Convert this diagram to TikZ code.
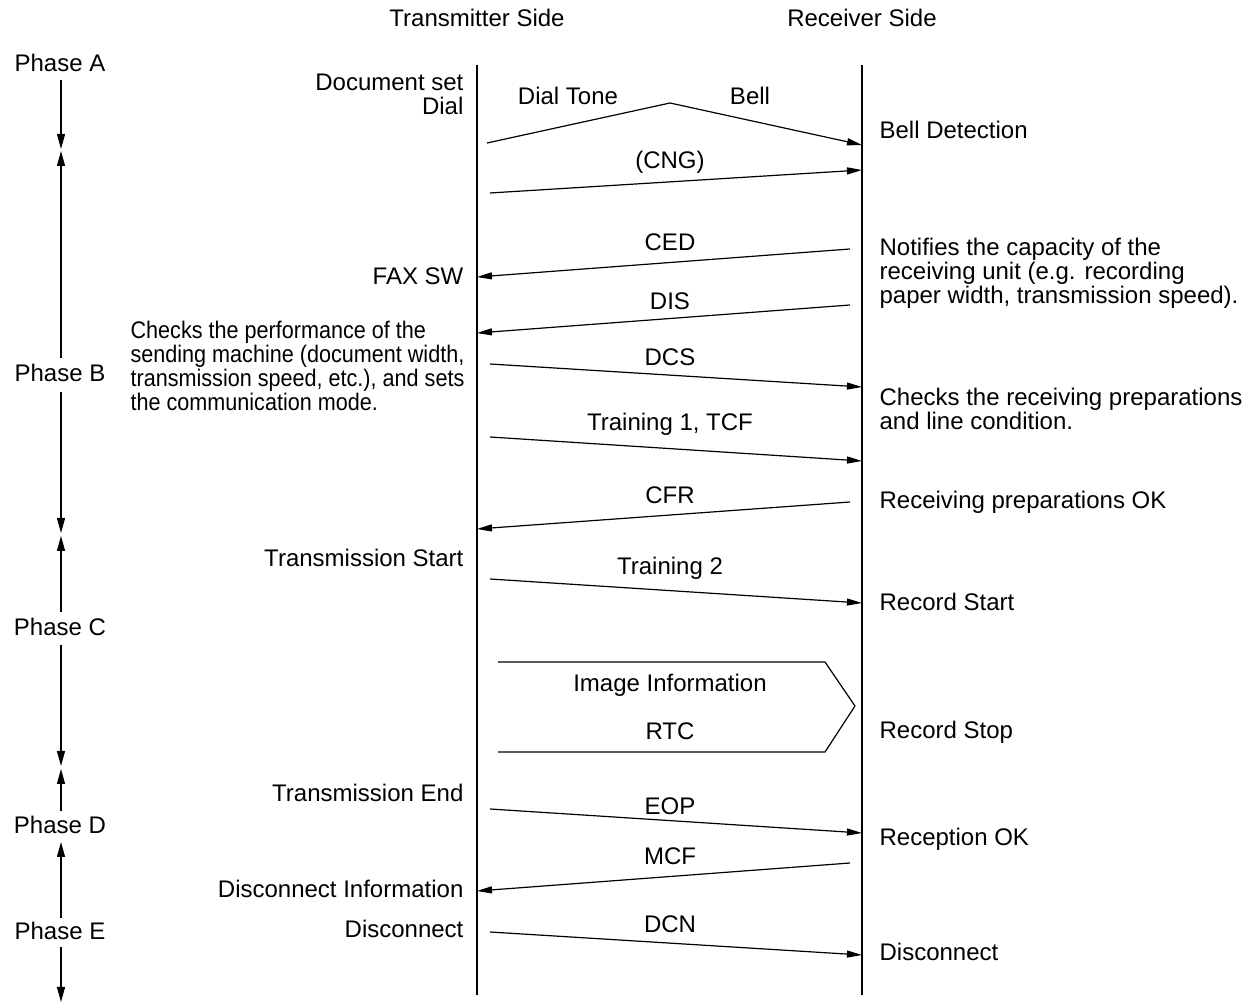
\documentclass[tikz,border=0pt]{standalone}
\usepackage{fontspec}
\setmainfont{Liberation Sans}
\newfontfamily\narrowsans[FakeStretch=0.9]{Liberation Sans}
\usetikzlibrary{arrows.meta}
\begin{document}
\begin{tikzpicture}[x=0.5pt,y=-0.5pt,line width=0.6pt,
  lbl/.style={font=\fontsize{12}{12}\selectfont,inner sep=0pt},
  narrowlbl/.style={font=\narrowsans\fontsize{12}{12}\selectfont,inner sep=0pt},
  msg/.style={-{Triangle[length=7.5pt,width=3.5pt]}},
  ph/.style={-{Triangle[length=7.5pt,width=4pt]}}]
\useasboundingbox (0,0) rectangle (1255,1005);
% headers
\node[lbl,anchor=base] (hT) at (477,27) {Transmitter Side};
\node[lbl,anchor=base] (hR) at (862,27) {Receiver Side};
% lifelines
\coordinate (T0) at (477,65); \coordinate (T1) at (477,995);
\coordinate (R0) at (862,65); \coordinate (R1) at (862,995);
\draw (T0) -- (T1);
\draw (R0) -- (R1);
% phases
\node[lbl,anchor=base] (pA) at (60,72) {Phase A};
\node[lbl,anchor=base] (pB) at (60,382) {Phase B};
\node[lbl,anchor=base] (pC) at (60,636) {Phase C};
\node[lbl,anchor=base] (pD) at (60,834) {Phase D};
\node[lbl,anchor=base] (pE) at (60,940) {Phase E};
\coordinate (a1) at (61,80);  \coordinate (a2) at (61,149);
\coordinate (b0) at (61,358); \coordinate (b0t) at (61,151);
\coordinate (b1) at (61,392); \coordinate (b2) at (61,533);
\coordinate (c0) at (61,612); \coordinate (c0t) at (61,536);
\coordinate (c1) at (61,645); \coordinate (c2) at (61,766);
\coordinate (d0) at (61,811); \coordinate (d0t) at (61,769);
\coordinate (e0) at (61,918); \coordinate (e0t) at (61,842);
\coordinate (e1) at (61,947); \coordinate (e2) at (61,1002);
\draw[ph] (a1) -- (a2);
\draw[ph] (b0) -- (b0t);
\draw[ph] (b1) -- (b2);
\draw[ph] (c0) -- (c0t);
\draw[ph] (c1) -- (c2);
\draw[ph] (d0) -- (d0t);
\draw[ph] (e0) -- (e0t);
\draw[ph] (e1) -- (e2);
% left texts
\node[lbl,anchor=north east,align=right] (docset) at (464,73) {Document set\\Dial};
\node[lbl,anchor=base east] (faxsw) at (464,285) {FAX SW};
\node[narrowlbl,anchor=north west,align=left] (checkT) at (130,321) {Checks the performance of the\\sending machine (document width,\\transmission speed, etc.), and sets\\the communication mode.};
\node[lbl,anchor=base east] (tstart) at (464,567) {Transmission Start};
\node[lbl,anchor=base east] (tend) at (464,802) {Transmission End};
\node[lbl,anchor=base east] (dinfo) at (464,898) {Disconnect Information};
\node[lbl,anchor=base east] (discT) at (464,937) {Disconnect};
% right texts
\node[lbl,anchor=base west] (belld) at (879,139) {Bell Detection};
\node[lbl,anchor=north west,align=left] (notif) at (879,238) {Notifies the capacity of the\\receiving unit (e.g. recording\\paper width, transmission speed).};
\node[lbl,anchor=north west,align=left] (checkR) at (879,388) {Checks the receiving preparations\\and line condition.};
\node[lbl,anchor=base west] (rpok) at (879,509) {Receiving preparations OK};
\node[lbl,anchor=base west] (rstart) at (879,611) {Record Start};
\node[lbl,anchor=base west] (rstop) at (879,739) {Record Stop};
\node[lbl,anchor=base west] (recok) at (879,846) {Reception OK};
\node[lbl,anchor=base west] (discR) at (879,961) {Disconnect};
% dial tone / bell
\coordinate (dt0) at (487,143); \coordinate (dtp) at (670,103); \coordinate (dt1) at (862,145);
\draw[msg] (dt0) -- (dtp) -- (dt1);
\node[lbl,anchor=base] (ldt) at (568,105) {Dial Tone};
\node[lbl,anchor=base] (lbell) at (750,105) {Bell};
% messages
\coordinate (cng0) at (490,193); \coordinate (cng1) at (862,170);
\draw[msg] (cng0) -- (cng1);
\node[lbl,anchor=base] (lcng) at (670,169) {(CNG)};
\coordinate (ced0) at (850,249); \coordinate (ced1) at (477,277);
\draw[msg] (ced0) -- (ced1);
\node[lbl,anchor=base] (lced) at (670,251) {CED};
\coordinate (dis0) at (850,305); \coordinate (dis1) at (477,333);
\draw[msg] (dis0) -- (dis1);
\node[lbl,anchor=base] (ldis) at (670,310) {DIS};
\coordinate (dcs0) at (490,364); \coordinate (dcs1) at (862,387);
\draw[msg] (dcs0) -- (dcs1);
\node[lbl,anchor=base] (ldcs) at (670,366) {DCS};
\coordinate (tr10) at (490,437); \coordinate (tr11) at (862,461);
\draw[msg] (tr10) -- (tr11);
\node[lbl,anchor=base] (ltr1) at (670,431) {Training 1, TCF};
\coordinate (cfr0) at (850,502); \coordinate (cfr1) at (477,529);
\draw[msg] (cfr0) -- (cfr1);
\node[lbl,anchor=base] (lcfr) at (670,504) {CFR};
\coordinate (tr20) at (490,579); \coordinate (tr21) at (862,603);
\draw[msg] (tr20) -- (tr21);
\node[lbl,anchor=base] (ltr2) at (670,575) {Training 2};
% image information
\coordinate (im1) at (498,662); \coordinate (im2) at (825,662); \coordinate (im3) at (855,706);
\coordinate (im4) at (825,752); \coordinate (im5) at (498,752);
\draw (im1) -- (im2) -- (im3) -- (im4) -- (im5);
\node[lbl,anchor=base] (limg) at (670,692) {Image Information};
\node[lbl,anchor=base] (lrtc) at (670,740) {RTC};
\coordinate (eop0) at (490,809); \coordinate (eop1) at (862,833);
\draw[msg] (eop0) -- (eop1);
\node[lbl,anchor=base] (leop) at (670,815) {EOP};
\coordinate (mcf0) at (850,863); \coordinate (mcf1) at (477,891);
\draw[msg] (mcf0) -- (mcf1);
\node[lbl,anchor=base] (lmcf) at (670,865) {MCF};
\coordinate (dcn0) at (490,932); \coordinate (dcn1) at (862,955);
\draw[msg] (dcn0) -- (dcn1);
\node[lbl,anchor=base] (ldcn) at (670,933) {DCN};
\end{tikzpicture}
\end{document}
